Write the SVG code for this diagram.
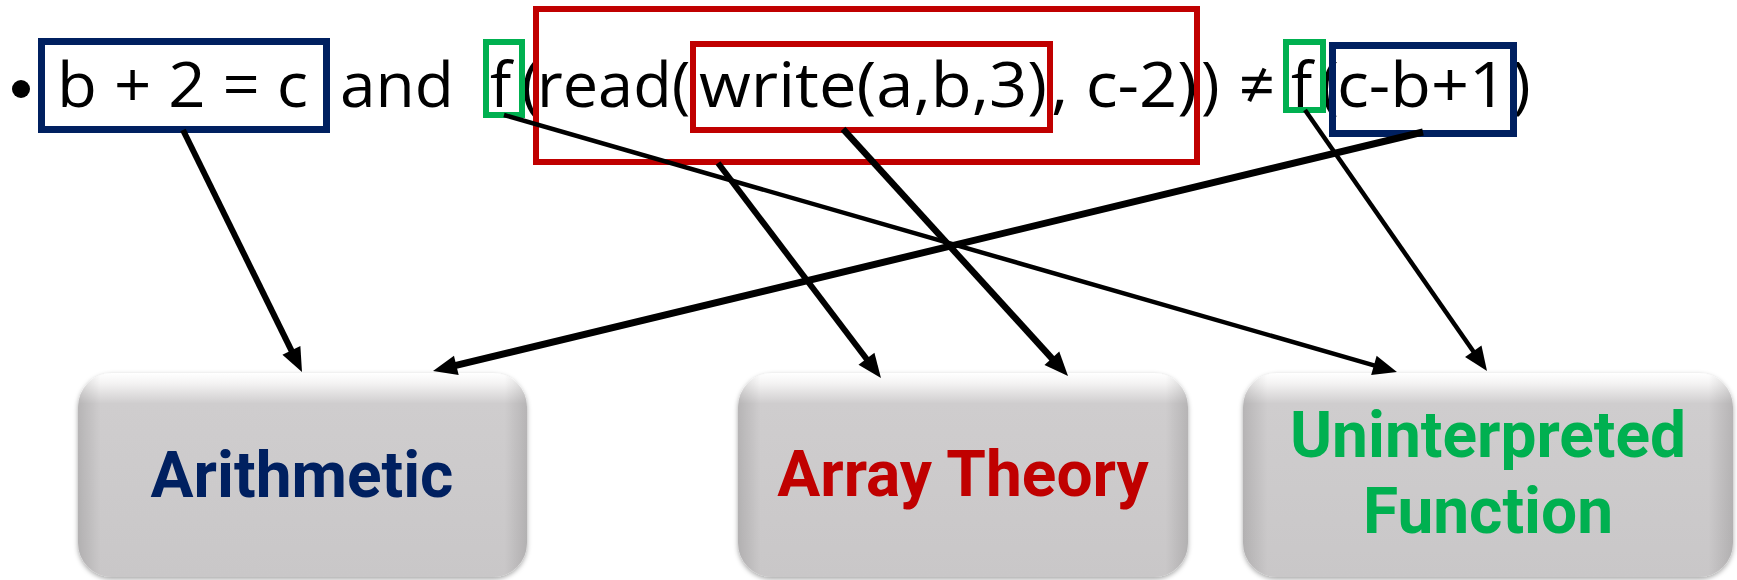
<svg xmlns="http://www.w3.org/2000/svg" width="1737" height="580" viewBox="0 0 1737 580">
<style>
.f{font-family:"Open Sans","Liberation Sans",sans-serif;font-size:63px;fill:#000}
.hl{fill:none}
.blue{stroke:#002060;stroke-width:7}
.red{stroke:#C00000;stroke-width:6}
.green{stroke:#00B050;stroke-width:6}
.node{fill:url(#g)}
.lbl{font-family:Roboto,"Liberation Sans",sans-serif;font-weight:bold;font-size:64px;text-anchor:middle}
.con{stroke:#000;fill:none;marker-end:url(#ah)}
</style>
<defs>
<linearGradient id="g" x1="0" y1="0" x2="0" y2="1">
<stop offset="0" stop-color="#FFFFFF"/>
<stop offset="0.05" stop-color="#F4F3F3"/>
<stop offset="0.15" stop-color="#CFCDCE"/>
<stop offset="1" stop-color="#C9C7C8"/>
</linearGradient>
<linearGradient id="gs" x1="0" y1="0" x2="1" y2="0">
<stop offset="0" stop-color="#000" stop-opacity="0.12"/>
<stop offset="0.05" stop-color="#000" stop-opacity="0"/>
<stop offset="0.95" stop-color="#000" stop-opacity="0"/>
<stop offset="1" stop-color="#000" stop-opacity="0.12"/>
</linearGradient>
<filter id="sh" x="-5%" y="-5%" width="110%" height="115%">
<feDropShadow dx="0" dy="2" stdDeviation="2.5" flood-color="#000" flood-opacity="0.35"/>
</filter>
<marker id="ah" markerUnits="userSpaceOnUse" viewBox="0 0 24 20" markerWidth="24" markerHeight="20" refX="10" refY="10" orient="auto" overflow="visible">
<path d="M0,0 L24,10 L0,20 z" fill="#000"/>
</marker>
</defs>
<rect width="1737" height="580" fill="#fff"/>
<g id="formula">
<circle cx="21" cy="89" r="9" fill="#000"/>
<text class="f" x="57" y="107" textLength="251" lengthAdjust="spacingAndGlyphs">b + 2 = c</text>
<text class="f" x="340" y="107" textLength="114" lengthAdjust="spacingAndGlyphs">and</text>
<text class="f" x="490" y="107">f<tspan dx="10">(</tspan><tspan x="537">read(</tspan></text>
<text class="f" x="699" y="107" textLength="348" lengthAdjust="spacingAndGlyphs">write(a,b,3)</text>
<text class="f" x="1051" y="107" textLength="146" lengthAdjust="spacingAndGlyphs">, c-2)</text>
<text class="f" x="1201" y="107">)</text>
<text class="f" x="1239" y="107">≠</text>
<text class="f" x="1291" y="107">f<tspan dx="8">(</tspan></text>
<text class="f" x="1337" y="107" textLength="170" lengthAdjust="spacingAndGlyphs">c-b+1</text>
<text class="f" x="1512" y="107">)</text>
</g>
<g id="highlights">
<rect id="hl-arith1" class="hl blue" x="41.5" y="41.5" width="285" height="88"/>
<rect id="hl-uf1" class="hl green" x="486" y="42" width="36" height="73"/>
<rect id="hl-read" class="hl red" x="536" y="9" width="661" height="153"/>
<rect id="hl-write" class="hl red" x="693" y="44" width="357" height="86"/>
<rect id="hl-uf2" class="hl green" x="1286" y="42" width="37" height="68"/>
<rect id="hl-arith2" class="hl blue" x="1332.5" y="45.5" width="181" height="88"/>
</g>
<g id="node-arithmetic">
<rect class="node" x="78" y="373" width="449" height="204" rx="34" filter="url(#sh)"/>
<rect x="78" y="373" width="449" height="204" rx="34" fill="url(#gs)"/>
<text class="lbl" x="302" y="497" fill="#002060">Arithmetic</text>
</g>
<g id="node-array">
<rect class="node" x="738" y="373" width="450" height="204" rx="34" filter="url(#sh)"/>
<rect x="738" y="373" width="450" height="204" rx="34" fill="url(#gs)"/>
<text class="lbl" x="963" y="496" fill="#C00000">Array Theory</text>
</g>
<g id="node-uf">
<rect class="node" x="1243" y="373" width="490" height="204" rx="34" filter="url(#sh)"/>
<rect x="1243" y="373" width="490" height="204" rx="34" fill="url(#gs)"/>
<text class="lbl" x="1488" y="457" fill="#00B050">Uninterpreted</text>
<text class="lbl" x="1488" y="533" fill="#00B050">Function</text>
</g>
<g id="connectors">
<path class="con" stroke-width="6" d="M183,130 L295.8,359.4"/>
<path class="con" stroke-width="7" d="M1423,132 L446.6,367.7"/>
<path class="con" stroke-width="4.5" d="M504,115 L1383.5,368.1"/>
<path class="con" stroke-width="6" d="M718,163 L872.5,366.8"/>
<path class="con" stroke-width="6.5" d="M843,129 L1058.6,365.7"/>
<path class="con" stroke-width="4.5" d="M1305,110 L1479,359.5"/>
</g>
</svg>
